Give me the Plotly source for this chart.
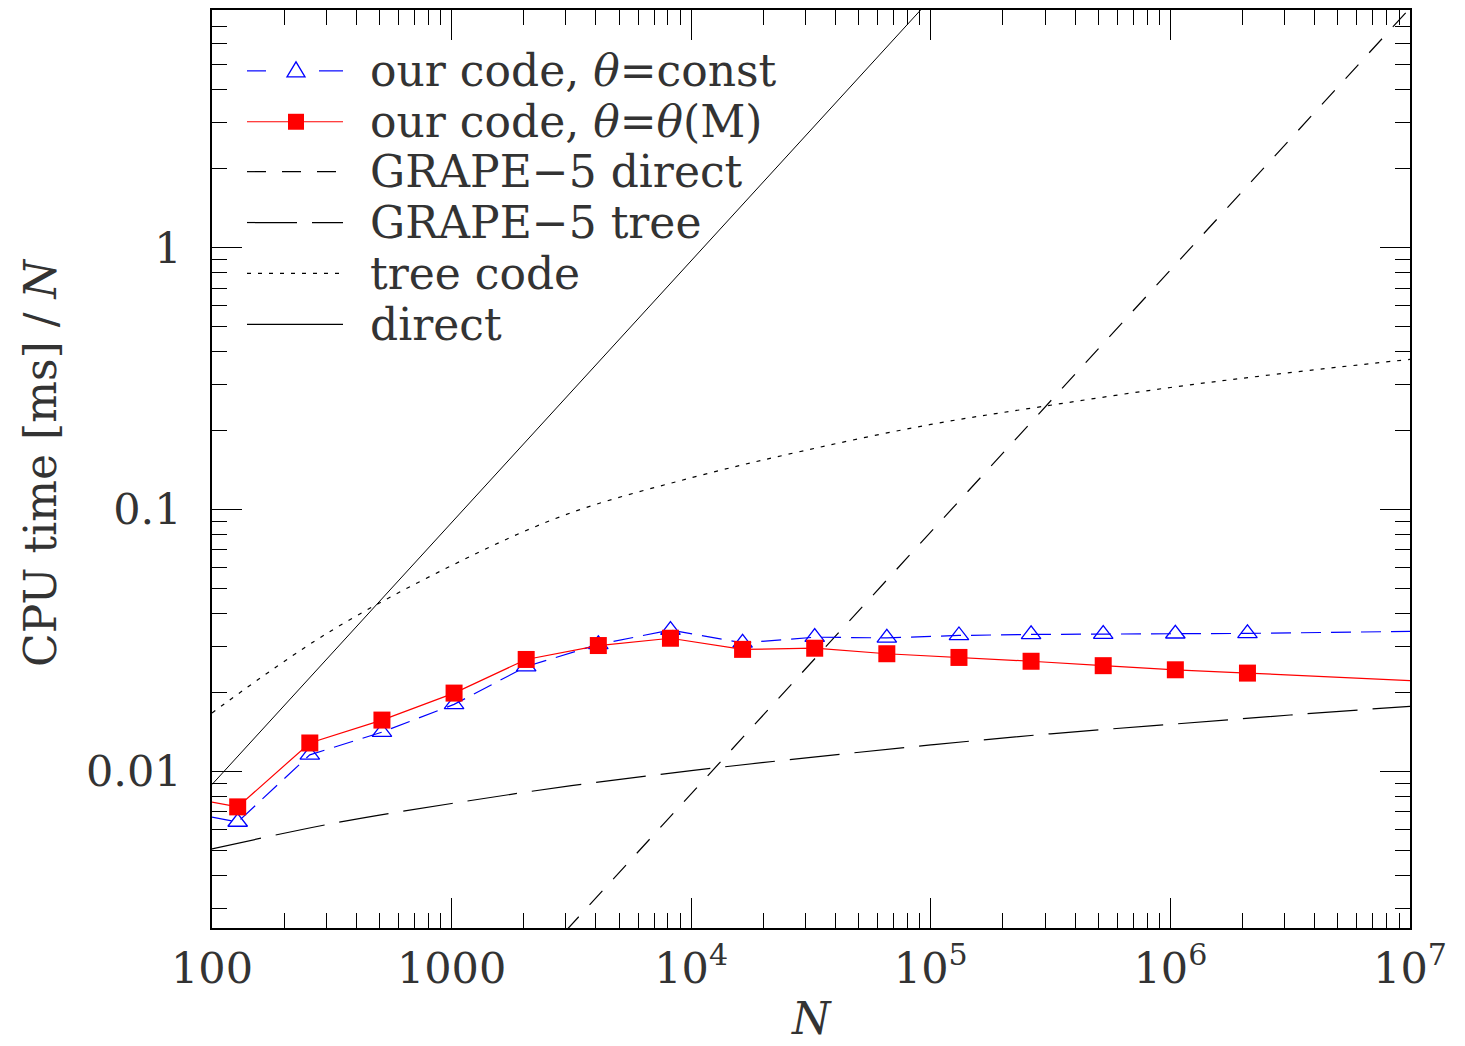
import plotly.graph_objects as go
import numpy as np

# ---------------- data ----------------
# our code: N = 2^7 .. 2^21, plus line extensions to the frame edges (no marker)
N_ours = [100, 128, 256, 512, 1024, 2048, 4096, 8192, 16384, 32768,
          65536, 131072, 262144, 524288, 1048576, 2097152, 1e7]
t_const = [0.00668, 0.0064, 0.01155, 0.0141, 0.0180, 0.0251, 0.0305, 0.0346,
           0.0309, 0.0325, 0.0323, 0.0330, 0.0333, 0.0334, 0.0335, 0.0336, 0.0342]
t_thetaM = [0.00762, 0.00731, 0.01282, 0.01568, 0.01988, 0.02672, 0.0302, 0.0322,
            0.0292, 0.0295, 0.0281, 0.0272, 0.0263, 0.0253, 0.0244, 0.0237, 0.0222]
has_marker = [0] + [1] * 15 + [0]

# GRAPE-5 direct  (t/N proportional to N)
N_g5d = [3000, 1e7]
t_g5d = [0.00246, 8.2]

# GRAPE-5 tree
N_g5t = [100, 316, 1000, 3162, 1e4, 31623, 1e5, 316228, 1e6, 3162278, 1e7]
t_g5t = [0.00505, 0.00631, 0.00753, 0.00881, 0.01005, 0.0113, 0.0126,
         0.0139, 0.0151, 0.0164, 0.0177]

# tree code
N_tree = [100, 300, 1000, 3000, 1e4, 3e4, 1e5, 3e5, 1e6, 3e6, 1e7]
t_tree = [0.0167, 0.0335, 0.061, 0.0955, 0.132, 0.168, 0.211, 0.248,
          0.292, 0.331, 0.374]

# direct (t/N proportional to N)
N_dir = [100, 1e5]
t_dir = [0.0089, 8.9]

x_tickvals = [100, 1000, 1e4, 1e5, 1e6, 1e7]
x_ticktext = ["100", "1000", "10<sup>4</sup>", "10<sup>5</sup>", "10<sup>6</sup>", "10<sup>7</sup>"]
y_tickvals = [0.01, 0.1, 1]
y_ticktext = ["0.01", "0.1", "1"]

legend_labels = ["our code, <i>θ</i>=const",
                 "our code, <i>θ</i>=<i>θ</i>(M)",
                 "GRAPE−5 direct",
                 "GRAPE−5 tree",
                 "tree code",
                 "direct"]

# ---------------- figure ----------------
W, H = 1465, 1046
L, R, T, B = 212, 55, 8, 118
FONT = "DejaVu Serif"
TXT = "#333333"
BLUE = "#0000ff"
RED = "#ff0000"

fig = go.Figure()

fig.add_trace(go.Scatter(x=N_dir, y=t_dir, mode="lines",
                         line=dict(color="black", width=1), showlegend=False))
fig.add_trace(go.Scatter(x=N_tree, y=t_tree, mode="lines", line_shape="spline",
                         line=dict(color="black", width=1.2, dash="4px,7px"), showlegend=False))
fig.add_trace(go.Scatter(x=N_g5t, y=t_g5t, mode="lines", line_shape="spline",
                         line=dict(color="black", width=1.2, dash="50px,15px"), showlegend=False))
fig.add_trace(go.Scatter(x=N_g5d, y=t_g5d, mode="lines",
                         line=dict(color="black", width=1.2, dash="19px,16px"), showlegend=False))
fig.add_trace(go.Scatter(x=N_ours, y=t_const, mode="lines+markers",
                         line=dict(color=BLUE, width=1.2, dash="20px,10px"),
                         marker=dict(symbol="triangle-up-open", size=[17 * m for m in has_marker],
                                     color=BLUE, opacity=1, line=dict(color=BLUE, width=1.3)),
                         showlegend=False))
fig.add_trace(go.Scatter(x=N_ours, y=t_thetaM, mode="lines+markers",
                         line=dict(color=RED, width=1.2),
                         marker=dict(symbol="square", size=[17 * m for m in has_marker],
                                     color=RED, opacity=1, line=dict(width=0)),
                         showlegend=False))

# ---------------- manual legend (pixel layout -> paper coords) ----------------
pw, ph = W - L - R, H - T - B


def px(xp):
    return (xp - L) / pw


def py(yp):
    return (H - B - yp) / ph


shapes = []
annos = []
rows = [69, 120, 170, 221, 272, 323]
x0, x1, xt = 247, 343, 368
# row 0: blue dashed with triangle
yy = rows[0]
shapes.append(dict(type="line", xref="paper", yref="paper", x0=px(247), x1=px(266),
                   y0=py(yy), y1=py(yy), line=dict(color=BLUE, width=1.2)))
shapes.append(dict(type="line", xref="paper", yref="paper", x0=px(319), x1=px(343),
                   y0=py(yy), y1=py(yy), line=dict(color=BLUE, width=1.2)))
shapes.append(dict(type="path", xref="paper", yref="paper",
                   path="M {:.5f} {:.5f} L {:.5f} {:.5f} L {:.5f} {:.5f} Z".format(
                       px(287), py(yy + 6), px(305), py(yy + 6), px(296), py(yy - 9)),
                   line=dict(color=BLUE, width=1.3)))
# row 1: red solid with square
yy = rows[1]
shapes.append(dict(type="line", xref="paper", yref="paper", x0=px(x0), x1=px(x1),
                   y0=py(yy), y1=py(yy), line=dict(color=RED, width=1.2)))
shapes.append(dict(type="rect", xref="paper", yref="paper", x0=px(288), x1=px(304),
                   y0=py(yy + 8), y1=py(yy - 8), fillcolor=RED, line=dict(width=0)))
# rows 2..5: black lines
dashes = ["19px,16px", "50px,15px", "4px,7px", "solid"]
for r, d in zip(rows[2:], dashes):
    shapes.append(dict(type="line", xref="paper", yref="paper", x0=px(x0), x1=px(x1),
                       y0=py(r), y1=py(r), line=dict(color="black", width=1.2, dash=d)))

for r, lab in zip(rows, legend_labels):
    annos.append(dict(x=px(xt), y=py(r), xref="paper", yref="paper", text=lab,
                      showarrow=False, xanchor="left", yanchor="middle",
                      font=dict(family=FONT, size=44, color=TXT)))

# axis titles
annos.append(dict(x=px(40), y=py(462), xref="paper", yref="paper",
                  text="CPU time [ms] / <i>N</i>", textangle=-90, showarrow=False,
                  xanchor="center", yanchor="middle",
                  font=dict(family=FONT, size=44, color=TXT)))
annos.append(dict(x=px(811), y=py(1045), xref="paper", yref="paper",
                  text="<i>N</i>", showarrow=False, xanchor="center", yanchor="bottom",
                  borderpad=0, font=dict(family=FONT, size=44, color=TXT)))

axis_common = dict(showgrid=False, zeroline=False, showline=True, linecolor="black",
                   linewidth=1.5, mirror="allticks", ticks="inside", ticklen=30,
                   tickwidth=1, tickcolor="black",
                   tickfont=dict(family=FONT, size=43, color=TXT))

fig.update_layout(
    width=W, height=H,
    margin=dict(l=L, r=R, t=T, b=B, pad=0),
    paper_bgcolor="white", plot_bgcolor="white",
    showlegend=False,
    shapes=shapes, annotations=annos,
    xaxis=dict(type="log", range=[2, 7], tickvals=x_tickvals, ticktext=x_ticktext,
               ticklabelstandoff=2,
               minor=dict(ticks="inside", ticklen=15, tickwidth=1, tickcolor="black",
                          dtick="D1", showgrid=False),
               **axis_common),
    yaxis=dict(type="log", range=[np.log10(0.00252), np.log10(8.07)],
               tickvals=y_tickvals, ticktext=y_ticktext, ticklabelstandoff=20,
               minor=dict(ticks="inside", ticklen=15, tickwidth=1, tickcolor="black",
                          dtick="D1", showgrid=False),
               **axis_common),
)

fig.write_html("out.html")
